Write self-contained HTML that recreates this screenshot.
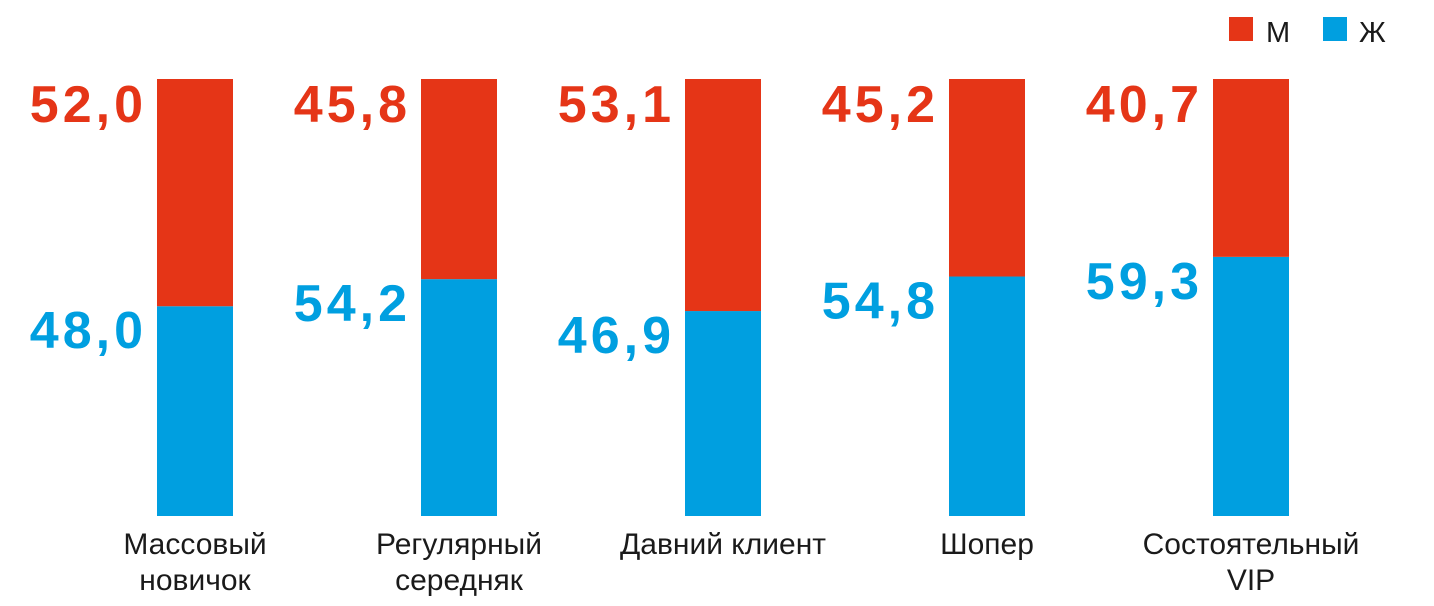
<!DOCTYPE html>
<html><head><meta charset="utf-8"><style>
body{margin:0;background:#fff;width:1434px;height:606px;overflow:hidden;font-family:"Liberation Sans",sans-serif}
svg{display:block}
.val{font-weight:bold;font-size:52px;letter-spacing:4px}
.cat{font-size:30px;fill:#1a1a1a}
</style></head><body>
<svg id="chart" width="1434" height="606">
<g>
<rect x="1229" y="17" width="24" height="24" fill="#E53517"/>
<text x="1266" y="42" font-size="29" fill="#1a1a1a">М</text>
<rect x="1323" y="17" width="24" height="24" fill="#009FE0"/>
<text x="1359" y="42" font-size="29" fill="#1a1a1a">Ж</text>
</g>
</svg>
<script>
const categories=[["Массовый","новичок"],["Регулярный","середняк"],["Давний клиент"],["Шопер"],["Состоятельный","VIP"]];
const maleValues=[52.0,45.8,53.1,45.2,40.7];
const femaleValues=[48.0,54.2,46.9,54.8,59.3];
const svg=document.getElementById('chart');
const NS='http://www.w3.org/2000/svg';
const top0=79,bottom0=516,barW=76;
function xPos(i){return 157+i*264;}
function yScale(v){return bottom0-(v/100)*(bottom0-top0);}
function fmt(v){return v.toFixed(1).replace('.',',');}
function mk(tag,attrs){const e=document.createElementNS(NS,tag);for(const k in attrs)e.setAttribute(k,attrs[k]);svg.appendChild(e);return e;}
categories.forEach((cat,i)=>{
  const x=xPos(i);
  const yb=yScale(femaleValues[i]);
  const f=mk('rect',{x:x,y:yb,width:barW,height:bottom0-yb,fill:'#009FE0'});
  
  
  const m=mk('rect',{x:x,y:yScale(100),width:barW,height:yb-yScale(100),fill:'#E53517'});
  
  
  const mt=mk('text',{x:x-10,y:top0+43,'text-anchor':'end',fill:'#E53517',class:'val'});
  mt.textContent=fmt(maleValues[i]);
  
  
  const ft=mk('text',{x:x-10,y:yb+42,'text-anchor':'end',fill:'#009FE0',class:'val'});
  ft.textContent=fmt(femaleValues[i]);
  
  
  cat.forEach((line,j)=>{
    const t=mk('text',{x:x+barW/2,y:554+j*36,'text-anchor':'middle',class:'cat'});
    t.textContent=line;
    
    
  });
});
</script>
</body></html>
